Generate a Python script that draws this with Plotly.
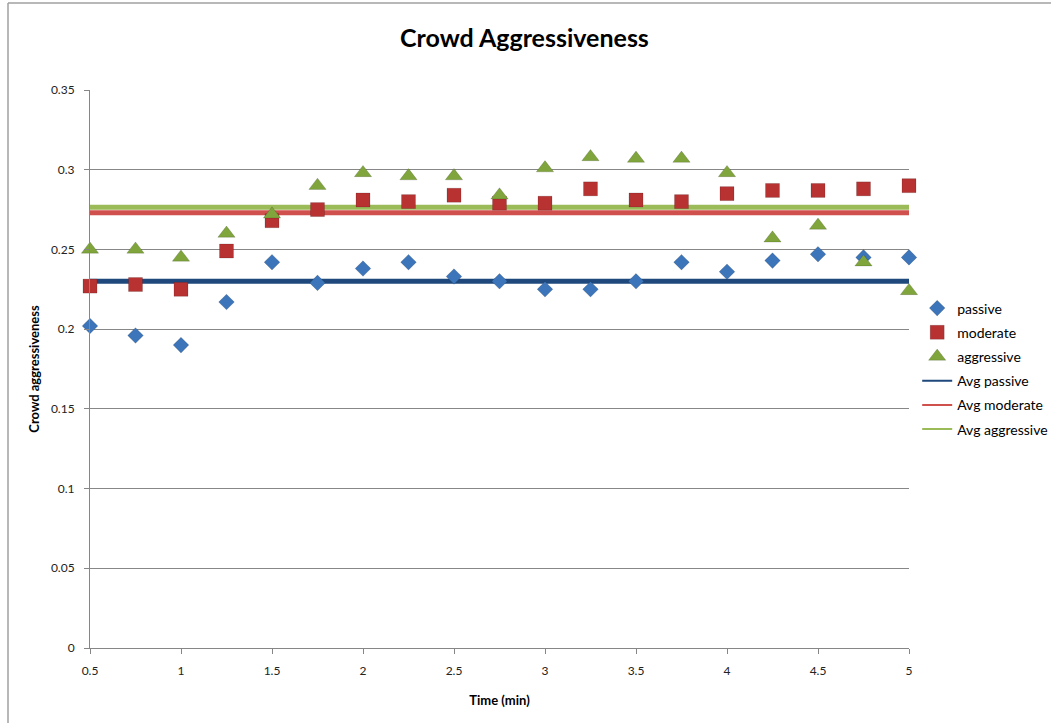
import plotly.graph_objects as go

# Sampling times (minutes)
time_min = [0.5, 0.75, 1.0, 1.25, 1.5, 1.75, 2.0, 2.25, 2.5, 2.75,
            3.0, 3.25, 3.5, 3.75, 4.0, 4.25, 4.5, 4.75, 5.0]

# Crowd aggressiveness per scenario
passive = [0.202, 0.196, 0.190, 0.217, 0.242, 0.229, 0.238, 0.242, 0.233, 0.230,
           0.225, 0.225, 0.230, 0.242, 0.236, 0.243, 0.247, 0.245, 0.245]
moderate = [0.227, 0.228, 0.225, 0.249, 0.268, 0.275, 0.281, 0.280, 0.284, 0.279,
            0.279, 0.288, 0.281, 0.280, 0.285, 0.287, 0.287, 0.288, 0.290]
aggressive = [0.250, 0.250, 0.245, 0.260, 0.272, 0.290, 0.298, 0.296, 0.296, 0.284,
              0.301, 0.308, 0.307, 0.307, 0.298, 0.257, 0.265, 0.242, 0.224]

# Averages per scenario
avg_passive = 0.230
avg_moderate = 0.273
avg_aggressive = 0.2765

y_ticks = [0, 0.05, 0.1, 0.15, 0.2, 0.25, 0.3, 0.35]
y_tick_text = ["0", "0.05", "0.1", "0.15", "0.2", "0.25", "0.3", "0.35"]
x_ticks = [0.5, 1, 1.5, 2, 2.5, 3, 3.5, 4, 4.5, 5]
x_tick_text = ["0.5", "1", "1.5", "2", "2.5", "3", "3.5", "4", "4.5", "5"]

FONT = "Lato, 'Open Sans', sans-serif"

fig = go.Figure()

# Average lines first so markers sit on top
for name, val, col in [("Avg passive", avg_passive, "#1F497D"),
                       ("Avg moderate", avg_moderate, "#D0504D"),
                       ("Avg aggressive", avg_aggressive, "#9BBB59")]:
    fig.add_trace(go.Scatter(
        x=[time_min[0], time_min[-1]], y=[val, val], mode="lines", name=name,
        line=dict(color=col, width=5), cliponaxis=False,
        legendgroup=name, showlegend=False))

for name, vals, sym, col, size in [("passive", passive, "diamond", "#3C75BA", 12),
                                   ("moderate", moderate, "square", "#B83232", 14),
                                   ("aggressive", aggressive, "triangle-up", "#7FA53C", 15)]:
    fig.add_trace(go.Scatter(
        x=time_min, y=vals, mode="markers", name=name, legendgroup=name,
        cliponaxis=False,
        marker=dict(symbol=sym, color=col, size=size,
                    line=dict(color="rgba(0,0,0,0.15)", width=1))))

# Legend entries for the average lines (thinner, as drawn in legend)
for name, col in [("Avg passive", "#1F497D"), ("Avg moderate", "#D0504D"),
                  ("Avg aggressive", "#9BBB59")]:
    fig.add_trace(go.Scatter(
        x=[None], y=[None], mode="lines", name=name, legendgroup=name,
        line=dict(color=col, width=2)))

fig.update_layout(
    width=1051, height=723,
    margin=dict(l=90, r=142, t=90, b=75, autoexpand=False),
    paper_bgcolor="white", plot_bgcolor="white",
    font=dict(family=FONT, color="#000000", size=12),
    title=dict(text="<b>Crowd Aggressiveness</b>", x=0.499, xanchor="center",
               y=0.947, yanchor="middle", font=dict(size=25, family=FONT)),
    legend=dict(x=1.01, xanchor="left", y=0.5, yanchor="middle",
                font=dict(size=14, family=FONT), tracegroupgap=3,
                bgcolor="rgba(0,0,0,0)"),
    xaxis=dict(range=[0.5, 5], tickvals=x_ticks, ticktext=x_tick_text,
               showgrid=False, zeroline=False, showline=True, linecolor="#868686",
               linewidth=1, ticks="outside", ticklen=5, tickcolor="#868686",
               ticklabelstandoff=7,
               tickfont=dict(size=12, color="#222222"),
               title=dict(text="<b>Time (min)</b>", font=dict(size=13), standoff=18)),
    yaxis=dict(range=[0, 0.35], tickvals=y_ticks, ticktext=y_tick_text,
               showgrid=True, gridcolor="#878787", gridwidth=1, zeroline=False,
               showline=True, linecolor="#868686", linewidth=1, ticks="outside",
               ticklen=5, tickcolor="#868686", ticklabelstandoff=7,
               tickfont=dict(size=12, color="#222222"),
               title=dict(text="<b>Crowd aggressiveness</b>", font=dict(size=13),
                          standoff=8)),
    shapes=[
        # Chart frame (left and top edges)
        dict(type="line", xref="paper", yref="paper",
             x0=(8 - 90) / 819, x1=(8 - 90) / 819, y0=1 + 87 / 558, y1=-2,
             line=dict(color="#A0A0A0", width=1.5)),
        dict(type="line", xref="paper", yref="paper",
             x0=(8 - 90) / 819, x1=2, y0=1 + 87 / 558, y1=1 + 87 / 558,
             line=dict(color="#A0A0A0", width=1.5)),
    ],
)

fig.write_html("out.html")
